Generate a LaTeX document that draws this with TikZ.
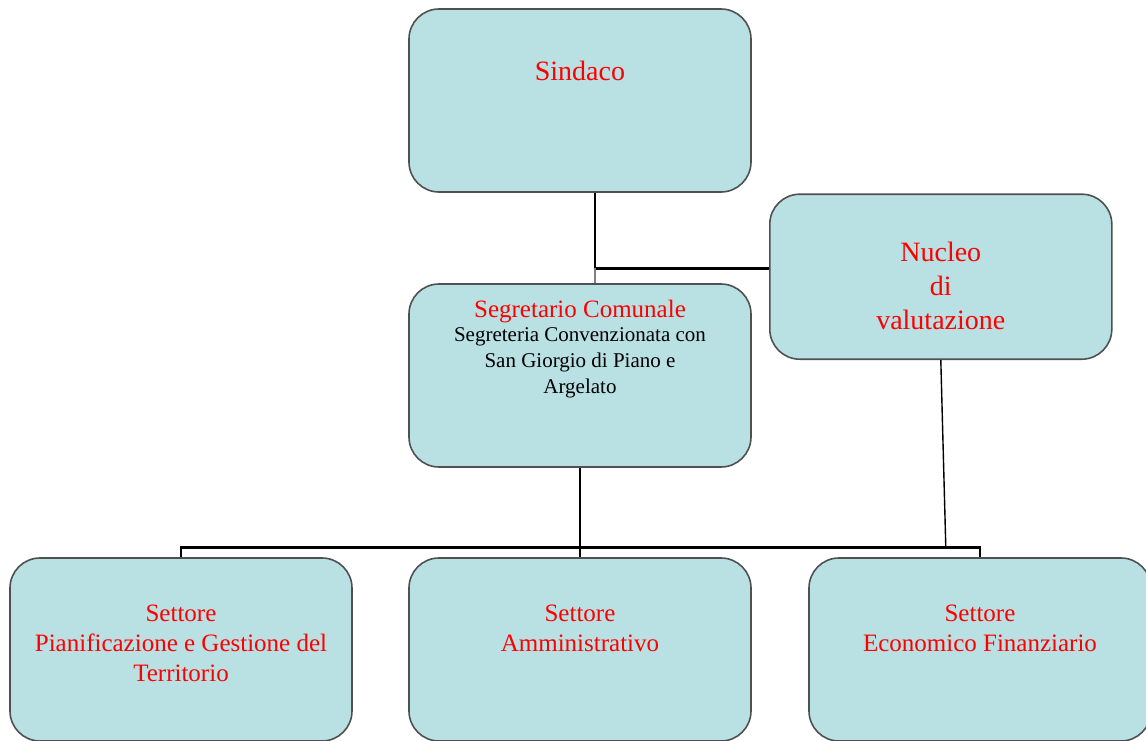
\documentclass[tikz,border=0pt]{standalone}
\usepackage{fontspec}
\setmainfont{Liberation Serif}
\usetikzlibrary{positioning}
\definecolor{boxcyan}{RGB}{185,224,227}
\definecolor{rimgray}{RGB}{80,80,80}
\tikzset{
  box/.style={rectangle, rounded corners=15pt, minimum width=171pt, minimum height=91.5pt, draw=rimgray, line width=0.8pt, fill=boxcyan},
  nb/.style={box, minimum height=82.5pt},
  rt/.style={text=red, align=center, inner sep=0pt, font=\fontsize{14}{17}\selectfont},
  st/.style={text=red, align=center, inner sep=0pt, font=\fontsize{12.5}{15}\selectfont},
  bt/.style={text=black, align=center, inner sep=0pt, font=\fontsize{10.5}{13}\selectfont},
  ln/.style={line width=1.3pt},
  tn/.style={line width=0.7pt},
  node distance=7mm
}
\begin{document}
\begin{tikzpicture}
	\useasboundingbox (-290pt,50.25pt) rectangle (283pt,-319.75pt);
	\node[box] (sindaco) at (0,0) {};
	\node[nb, below right=92.6pt and 8.6pt of sindaco.north east] (nucleo) {};
	\node[box, below=45.2pt of sindaco] (segretario) {};
	\node[box, below=44.7pt of segretario] (amministrativo) {};
	\node[box, left=27.7pt of amministrativo] (territorio) {};
	\node[box, right=28.2pt of amministrativo] (economico) {};
	%
	\coordinate (sindacoexit) at ([xshift=7.5pt]sindaco.south);
	\coordinate (nucleoentry) at ([yshift=4.25pt]nucleo.west);
	\draw[ln] (sindacoexit) |- (nucleoentry) coordinate[pos=0.5] (knee);
	\draw[tn, gray] (knee) -- (knee |- segretario.north);
	\coordinate (bus) at ([yshift=5pt]amministrativo.north);
	\draw[ln] (segretario.south) -- (bus);
	\draw[ln] (territorio.north) |- (bus) -| (economico.north);
	\draw[ln] (bus) -- (amministrativo.north);
	\path (nucleo.south |- bus) ++(2.5pt,0) coordinate (nucleodrop);
	\draw[tn] (nucleo.south) -- (nucleodrop);
	%
	\node[rt] (sindacotxt) at ([yshift=-31.5pt]sindaco.north) {Sindaco};
	\node[rt] (nucleotxt) at ([yshift=-4.5pt]nucleo.center) {Nucleo\\di\\valutazione};
	\node[st] (segtitle) at ([yshift=-14pt]segretario.north) {Segretario Comunale};
	\node[bt] (segbody) at ([yshift=-40pt]segretario.north) {Segreteria Convenzionata con\\San Giorgio di Piano e\\Argelato};
	\node[st, below=23.5pt of territorio.north] (territoriotxt) {Settore\\Pianificazione e Gestione del\\Territorio};
	\node[st, below=23.5pt of amministrativo.north] (amministrativotxt) {Settore\\Amministrativo};
	\node[st, below=23.5pt of economico.north] (economicotxt) {Settore\\Economico Finanziario};
\end{tikzpicture}
\end{document}
